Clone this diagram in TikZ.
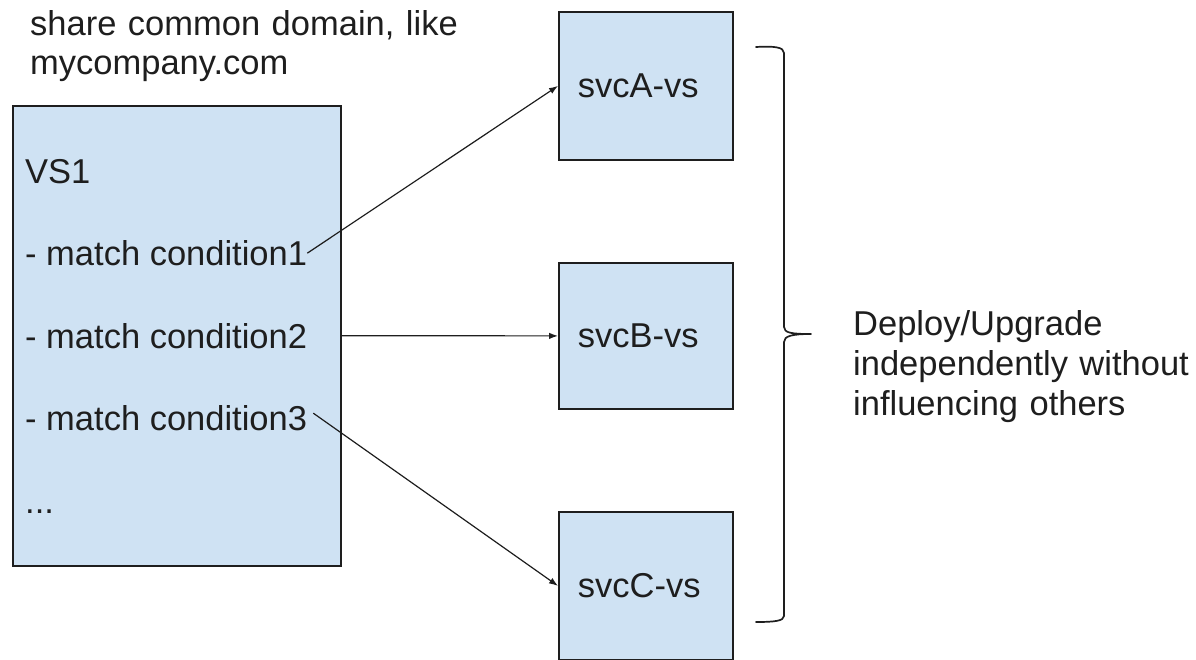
\documentclass[tikz,border=0pt]{standalone}
\usepackage{fontspec}
\setmainfont{Liberation Sans}
\usetikzlibrary{arrows.meta}
\definecolor{boxfill}{HTML}{CFE2F3}
\definecolor{ink}{HTML}{1E1E1E}
\begin{document}
\begin{tikzpicture}[x=1pt,y=-1pt,
  every node/.style={font=\fontsize{34.5}{40}\selectfont, text=ink},
  panel/.style={draw=ink, line width=1.8pt, fill=boxfill, rectangle, inner sep=0pt},
  svcbox/.style={panel, minimum height=148pt, text width=136pt, inner xsep=19pt, align=left},
  txt/.style={inner sep=0pt, anchor=base west},
  conn/.style={draw=ink, line width=1.2pt, -{Latex[length=9pt,width=6.5pt]}},
  bracestyle/.style={draw=ink, line width=1.7pt, line cap=round, line join=round}]
\useasboundingbox (0,0) rectangle (1196,659);
% top caption
\node[txt, text width=460pt, align=left, font=\fontsize{34.5}{39}\selectfont] (cap) at (30,35)
  {share common domain, like\\mycompany.com};
% VS1 box
\node[panel, anchor=north west, minimum width=328pt, minimum height=460pt] (vs) at (12,105) {};
\node[txt] (vsT) at (25,183) {VS1};
\node[txt] (c1) at (25,265.5) {- match condition1};
\node[txt] (c2) at (25,348) {- match condition2};
\node[txt] (c3) at (25,430.5) {- match condition3};
\node[txt] (dots) at (25,513) {...};
% service boxes
\node[svcbox, anchor=north west] (sa) at (558,11) {svcA-vs};
\node[svcbox, anchor=north west, minimum height=146pt] (sb) at (558,262) {svcB-vs};
\node[svcbox, anchor=north west] (sc) at (558,511) {svcC-vs};
% connectors
\draw[conn] (c1.east) -- (sa.west);
\draw[conn] (c2.east -| vs.east) -- (sb.west);
\draw[conn] ([xshift=6pt,yshift=5pt]c3.east) -- (sc.west);
% brace
\coordinate (bt) at (756,47);
\coordinate (bb) at (756,622);
\coordinate (tip) at (811,334);
\draw[bracestyle] (bt) .. controls (774,46) and (784,47) .. (784,53)
  -- (784,327) .. controls (784,333) and (792,334) .. (tip)
  .. controls (792,334) and (784,336) .. (784,342)
  -- (784,616) .. controls (784,621) and (774,622) .. (bb);
% side note
\node[txt, text width=340pt, align=left] (note) at (853,335)
  {Deploy/Upgrade\\independently without\\influencing others};
\end{tikzpicture}
\end{document}
